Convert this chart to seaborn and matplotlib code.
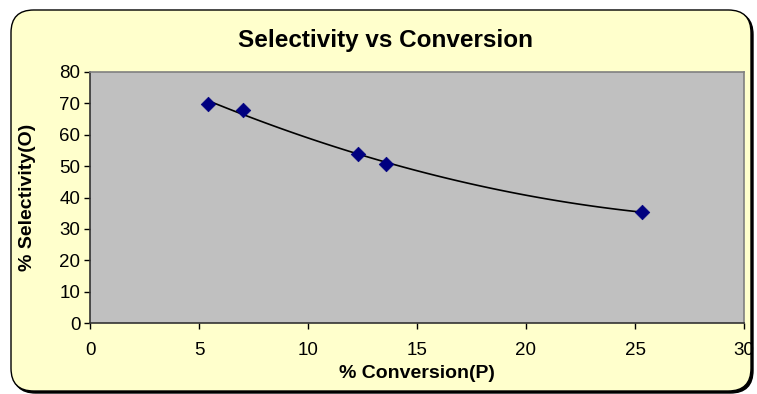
import matplotlib
matplotlib.use("Agg")
import matplotlib.pyplot as plt
import seaborn as sns
import pandas as pd
from matplotlib.patches import FancyBboxPatch

conversion = [5.4, 7.0, 12.3, 13.6, 25.3]
selectivity = [69.8, 68.0, 54.0, 50.6, 35.4]
x_ticks = [0, 5, 10, 15, 20, 25, 30]
y_ticks = [0, 10, 20, 30, 40, 50, 60, 70, 80]

df = pd.DataFrame({"conv": conversion, "sel": selectivity})

sns.set_theme(style="white")
plt.rcParams["font.family"] = ["Liberation Sans", "DejaVu Sans"]

fig = plt.figure(figsize=(7.57, 3.94), dpi=100)
fig.patch.set_facecolor("white")

# chart area background with rounded corners and shadow
shadow = FancyBboxPatch((13 / 757, 1 - 393 / 394), 740 / 757, 381 / 394,
                        boxstyle="round,pad=0,rounding_size=0.03",
                        transform=fig.transFigure, facecolor="black",
                        edgecolor="black", linewidth=1.0, zorder=0,
                        mutation_aspect=757 / 394)
fig.patches.append(shadow)
bg = FancyBboxPatch((11 / 757, 1 - 391 / 394), 740 / 757, 381 / 394,
                    boxstyle="round,pad=0,rounding_size=0.03",
                    transform=fig.transFigure, facecolor="#FFFFCC",
                    edgecolor="black", linewidth=1.0, zorder=1,
                    mutation_aspect=757 / 394)
fig.patches.append(bg)

ax = fig.add_axes([90 / 757, 1 - 323 / 394, 654 / 757, 251 / 394])
ax.set_facecolor("#C0C0C0")
ax.set_zorder(2)

sns.regplot(data=df, x="conv", y="sel", order=2, ci=None, scatter=False,
            line_kws={"color": "black", "linewidth": 1.2}, ax=ax)
sns.scatterplot(data=df, x="conv", y="sel", marker="D", s=55,
                color="#000080", edgecolor="#000080", linewidth=0.5,
                ax=ax, zorder=5)

ax.set_xlim(0, 30)
ax.set_ylim(0, 80)
ax.set_xticks(x_ticks)
ax.set_yticks(y_ticks)
ax.tick_params(axis="both", which="both", direction="out", length=4,
               width=1, color="black", labelsize=13.5, labelcolor="black",
               bottom=True, left=True)
ax.tick_params(axis="x", pad=10)
ax.tick_params(axis="y", pad=3)

for side in ["left", "bottom"]:
    ax.spines[side].set_color("#333333")
    ax.spines[side].set_linewidth(1.2)
for side in ["right", "top"]:
    ax.spines[side].set_color("#808080")
    ax.spines[side].set_linewidth(1.2)

ax.set_xlabel("% Conversion(P)", fontsize=14, fontweight="bold",
              color="black", labelpad=0)
ax.set_ylabel("% Selectivity(O)", fontsize=14, fontweight="bold",
              color="black", labelpad=6)
ax.xaxis.set_label_coords(0.5, -(373 - 323) / 251)
ax.xaxis.label.set_va("center")
ax.yaxis.set_label_coords(-(90 - 28) / 654, 0.5)
ax.yaxis.label.set_va("center")

fig.text(386 / 757, 1 - 40 / 394, "Selectivity vs Conversion",
         ha="center", va="center", fontsize=17.5, fontweight="bold",
         color="black")

fig.savefig("out.png", dpi=100, facecolor=fig.get_facecolor())
